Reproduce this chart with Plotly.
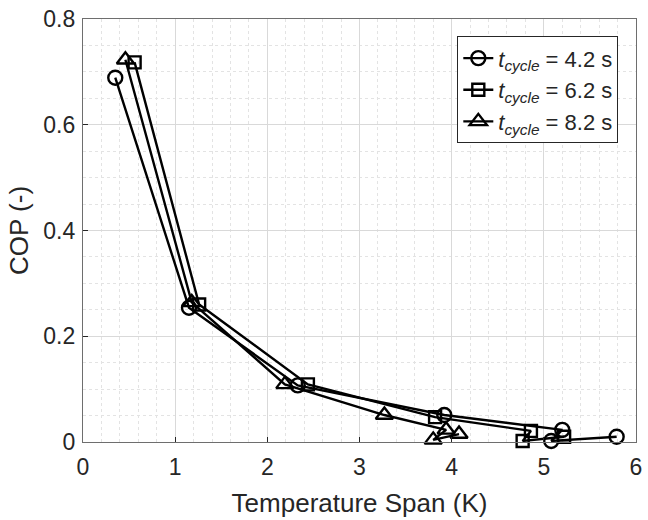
import plotly.graph_objects as go

# Data
x_42 = [0.35, 1.15, 2.33, 3.92, 5.20, 5.08, 5.79]
y_42 = [0.689, 0.254, 0.107, 0.051, 0.023, 0.002, 0.010]
x_62 = [0.56, 1.26, 2.44, 3.82, 4.86, 4.77, 5.22]
y_62 = [0.718, 0.260, 0.109, 0.047, 0.021, 0.002, 0.010]
x_82 = [0.46, 1.18, 2.19, 3.27, 3.94, 3.80, 4.08]
y_82 = [0.723, 0.264, 0.109, 0.051, 0.023, 0.004, 0.015]
names = ["<i>t</i><sub><i>cycle</i></sub> = 4.2 s",
         "<i>t</i><sub><i>cycle</i></sub> = 6.2 s",
         "<i>t</i><sub><i>cycle</i></sub> = 8.2 s"]
x_ticks = [0, 1, 2, 3, 4, 5, 6]
y_ticks = [0, 0.2, 0.4, 0.6, 0.8]
y_ticktext = ["0", "0.2", "0.4", "0.6", "0.8"]

fig = go.Figure()
series = [(x_42, y_42, "circle-open", 14), (x_62, y_62, "square-open", 12), (x_82, y_82, "triangle-up-open", 15)]
for (xs, ys, sym, sz), nm in zip(series, names):
    fig.add_trace(go.Scatter(
        x=xs, y=ys, name=nm, mode="lines+markers", cliponaxis=False,
        line=dict(color="black", width=2.4),
        marker=dict(symbol=sym, size=sz, color="black", line=dict(width=2.4, color="black")),
    ))

axis_common = dict(
    showline=True, linecolor="#6e6e6e", linewidth=1.2, mirror=True,
    ticks="inside", ticklen=5, tickcolor="#262626",
    showgrid=True, gridcolor="#d9d9d9", gridwidth=1,
    zeroline=False,
    tickfont=dict(family="Liberation Sans, Arial", size=23, color="#262626"),
    title_font=dict(family="Liberation Sans, Arial", size=26, color="#262626"),
)
fig.update_xaxes(range=[0, 6], tickvals=x_ticks, title_text="Temperature Span (K)",
                 minor=dict(dtick=0.2, showgrid=True, gridcolor="#e3e3e3", griddash="dot", gridwidth=1),
                 ticklabelstandoff=4, title_standoff=15, **axis_common)
fig.update_yaxes(range=[0, 0.8], tickvals=y_ticks, ticktext=y_ticktext, title_text="COP (-)",
                 minor=dict(dtick=0.05, showgrid=True, gridcolor="#e3e3e3", griddash="dot", gridwidth=1),
                 ticklabelstandoff=2, title_standoff=7, **axis_common)

fig.update_layout(
    width=648, height=520,
    margin=dict(l=83, r=6, t=16, b=78),
    plot_bgcolor="white", paper_bgcolor="white",
    legend=dict(x=0.968, y=0.959, xanchor="right", yanchor="top",
                bgcolor="white", bordercolor="#262626", borderwidth=1,
                font=dict(family="Liberation Sans, Arial", size=22, color="#262626"),
                itemwidth=30, tracegroupgap=0),
    showlegend=True,
)

fig.write_html("out.html")
